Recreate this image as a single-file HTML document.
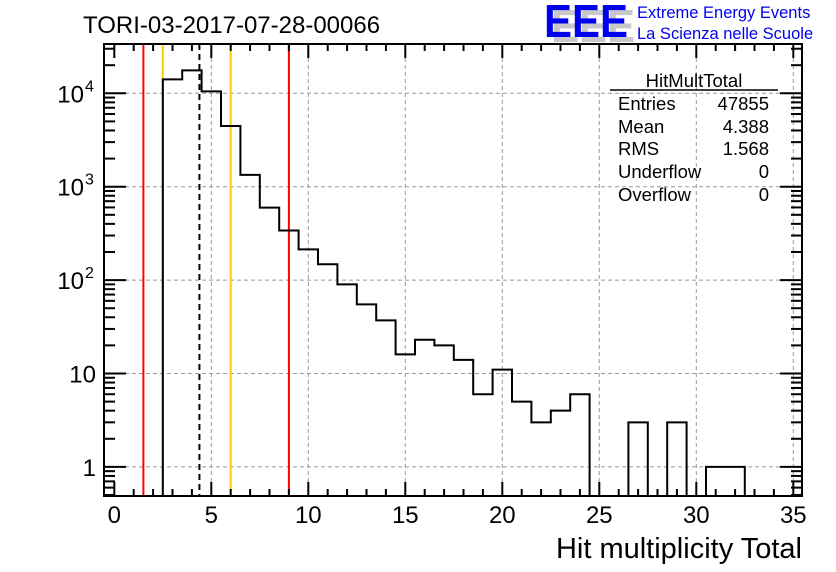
<!DOCTYPE html>
<html><head><meta charset="utf-8"><style>
html,body{margin:0;padding:0;background:#fff;}
svg{display:block;font-family:"Liberation Sans",sans-serif;}
</style></head><body>
<svg id="chart" width="836" height="572" viewBox="0 0 836 572" xmlns="http://www.w3.org/2000/svg">
<rect width="836" height="572" fill="#fff"/>
<text x="83" y="33" font-size="24">TORI-03-2017-07-28-00066</text>
<g>
<text x="551" y="42" font-size="46" font-weight="bold" fill="#c8c8c8" textLength="84" lengthAdjust="spacingAndGlyphs">EEE</text>
<text x="544" y="37" font-size="46" font-weight="bold" fill="#0000ee" textLength="84" lengthAdjust="spacingAndGlyphs">EEE</text>
<text x="637" y="18" font-size="16.5" fill="#0000ee">Extreme Energy Events</text>
<text x="637" y="39" font-size="16.5" fill="#0000ee">La Scienza nelle Scuole</text>
</g>
<g id="grid"></g><g id="lines"></g><g id="hist"></g><g id="axes"></g>
<g font-size="18.5">
<text x="694" y="87" text-anchor="middle">HitMultTotal</text>
<line x1="610" y1="90" x2="778" y2="90" stroke="#000" stroke-width="1.5"/>
<text x="618" y="110">Entries</text><text x="769" y="110" text-anchor="end">47855</text>
<text x="618" y="133">Mean</text><text x="769" y="133" text-anchor="end">4.388</text>
<text x="618" y="155">RMS</text><text x="769" y="155" text-anchor="end">1.568</text>
<text x="618" y="178">Underflow</text><text x="769" y="178" text-anchor="end">0</text>
<text x="618" y="201">Overflow</text><text x="769" y="201" text-anchor="end">0</text>
</g>
<text x="802" y="558" font-size="29" text-anchor="end">Hit multiplicity Total</text>
</svg>
<script>
const binCenters=[3,4,5,6,7,8,9,10,11,12,13,14,15,16,17,18,19,20,21,22,23,24,25,26,27,28,29,30,31,32];
const counts=[14100,17600,10500,4460,1340,597,340,213,148,90,55,37,16,23,20,14,6,11,5,3,4,6,0,0,3,0,3,0,1,1];
const xTicks=[0,5,10,15,20,25,30,35];
const yTicks=[1,10,100,1000,10000];
const yTickBase=["1","10","10","10","10"];
const yTickExp=["","","2","3","4"];
const vRed=[1.5,9.0];
const vOrange=[2.5,6.0];
const meanValue=4.388;
const NS="http://www.w3.org/2000/svg";
const L=104,R=802,T=44,B=496;
const X=v=>114.3+v*19.4;
const Y=v=>93.3-(Math.log10(v)-4)*93.4;
function mk(tag,attrs,parent){const e=document.createElementNS(NS,tag);for(const k in attrs)e.setAttribute(k,attrs[k]);(typeof parent==='string'?document.getElementById(parent):parent).appendChild(e);return e;}
xTicks.forEach(t=>{if(t>0){const g=mk('line',{x1:X(t),x2:X(t),y1:T,y2:B,stroke:'#999','stroke-dasharray':'4,3','stroke-width':1},'grid');

}});
yTicks.forEach(t=>{const g=mk('line',{x1:L,x2:R,y1:Y(t),y2:Y(t),stroke:'#999','stroke-dasharray':'4,3','stroke-width':1},'grid');

});
vRed.forEach(v=>{const l=mk('line',{x1:X(v),x2:X(v),y1:T,y2:B,stroke:'#ff0000','stroke-width':2},'lines');

});
vOrange.forEach(v=>{const l=mk('line',{x1:X(v),x2:X(v),y1:T,y2:B,stroke:'#ffcc00','stroke-width':2},'lines');

});
const ml=mk('line',{x1:X(meanValue),x2:X(meanValue),y1:T,y2:B,stroke:'#000','stroke-width':2,'stroke-dasharray':'6,4'},'lines');


const yc=v=>v>0?Math.max(T,Math.min(B,Y(v))):B;
let d='';
binCenters.forEach((c,i)=>{const x0=X(c-0.5),x1=X(c+0.5);const y=yc(counts[i]);
 d+=(i===0?`M${x0},${B}`:'')+`L${x0},${y}L${x1},${y}`;});
d+=`L${X(binCenters[binCenters.length-1]+0.5)},${B}`;
const h=mk('path',{d:d,fill:'none',stroke:'#000','stroke-width':2},'hist');


const fr=mk('rect',{x:L,y:T,width:R-L,height:B-T,fill:'none',stroke:'#000','stroke-width':2},'axes');


for(let v=0;v<=35;v++){const major=v%5===0;const len=major?14:7;
 mk('line',{x1:X(v),x2:X(v),y1:B,y2:B-len,stroke:'#000','stroke-width':2},'axes');
 mk('line',{x1:X(v),x2:X(v),y1:T,y2:T+len,stroke:'#000','stroke-width':2},'axes');}
xTicks.forEach(t=>{const tx=mk('text',{x:X(t),y:523,'font-size':24,'text-anchor':'middle'},'axes');tx.textContent=t;

});
for(let e=-1;e<=4;e++){for(let m=1;m<=9;m++){const v=m*Math.pow(10,e);const y=Y(v);if(y<T||y>B)continue;
 const len=m===1?22:11;
 mk('line',{x1:L,x2:L+len,y1:y,y2:y,stroke:'#000','stroke-width':2},'axes');
 mk('line',{x1:R,x2:R-len,y1:y,y2:y,stroke:'#000','stroke-width':2},'axes');}}
yTicks.forEach((t,i)=>{
 const hasExp=yTickExp[i]!=='';
 const tx=mk('text',{x:hasExp?84:96,y:Y(t)+9,'font-size':24,'text-anchor':'end'},'axes');tx.textContent=yTickBase[i];
 
 
 if(hasExp){const ex=mk('text',{x:85,y:Y(t)-2,'font-size':16},'axes');ex.textContent=yTickExp[i];
 
 }
});
</script>
</body></html>
